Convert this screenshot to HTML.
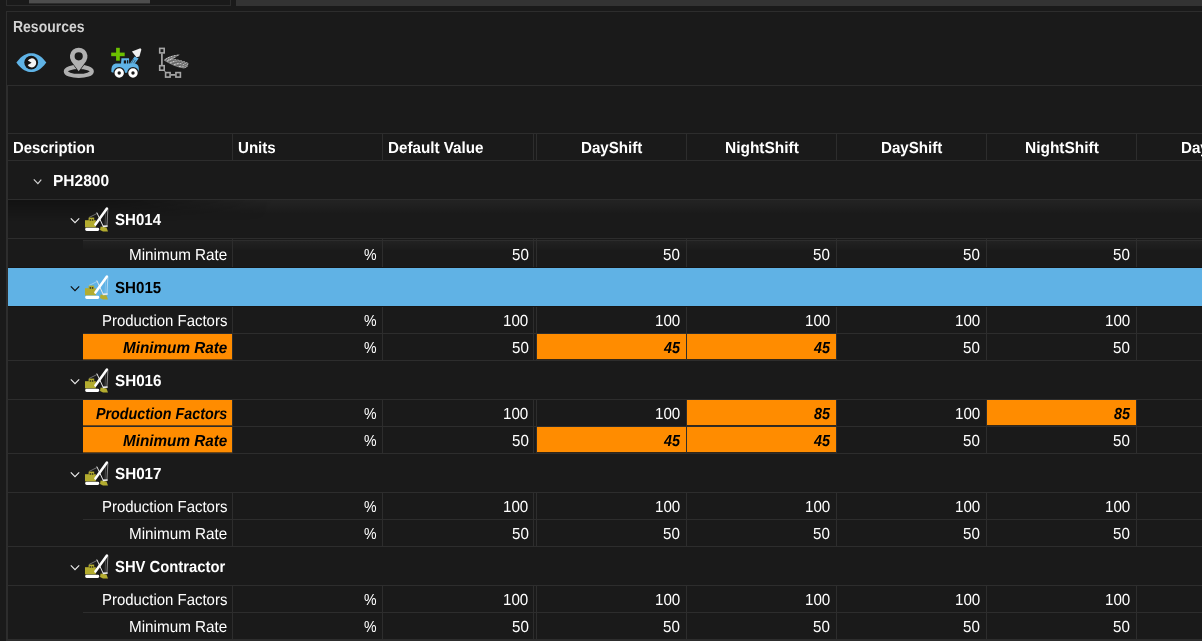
<!DOCTYPE html><html><head><meta charset="utf-8"><title>Resources</title><style>
html,body{margin:0;padding:0}
body{width:1202px;height:641px;overflow:hidden;background:#1a1a1a;position:relative;font-family:"Liberation Sans",sans-serif;font-size:16px;color:#fff;text-rendering:geometricPrecision}
div,span,svg{position:absolute;box-sizing:border-box}
.h{height:1px;background:#2d2d2d}
.v{width:1px;background:#2d2d2d}
.t{white-space:nowrap;line-height:18px;height:18px;transform-origin:0 0}
.b{font-weight:bold}
.bi{font-weight:bold;font-style:italic}
.o{background:#ff8c00}

</style></head><body>
<div style="left:6px;top:-1px;width:225px;height:7px;border:1px solid #2d2d2d"></div>
<div style="left:29px;top:0;width:121px;height:3px;background:#4d4d4d"></div><div style="left:29px;top:3px;width:121px;height:1px;background:#2e2e2e"></div>
<div style="left:236px;top:0;width:966px;height:6px;background:#333"></div>
<div style="left:6px;top:11px;width:1300px;height:700px;border:1px solid #2d2d2d"></div>
<div class="h" style="left:6px;top:85px;width:1196px"></div>
<div class="v" style="left:7px;top:85px;height:556px"></div>
<div class="h" style="left:8px;top:133px;width:1194px"></div>
<div class="h" style="left:8px;top:160px;width:1194px"></div>
<div class="v" style="left:232px;top:134px;height:26px"></div>
<div class="v" style="left:382px;top:134px;height:26px"></div>
<div class="v" style="left:533px;top:134px;height:26px"></div>
<div class="v" style="left:536px;top:134px;height:26px"></div>
<div class="v" style="left:686px;top:134px;height:26px"></div>
<div class="v" style="left:836px;top:134px;height:26px"></div>
<div class="v" style="left:986px;top:134px;height:26px"></div>
<div class="v" style="left:1136px;top:134px;height:26px"></div>
<svg style="left:32.5px;top:178px" width="11" height="7" viewBox="0 0 11 7"><path d="M0.8 1.3 L4.9 5.6 L8.3 1.6" fill="none" stroke="#d4d4d4" stroke-width="1.15"/></svg>
<div class="h" style="left:8px;top:199px;width:1194px"></div>
<div style="left:8px;top:200px;width:260px;height:38px;background:linear-gradient(to bottom,rgba(0,0,0,0.3),rgba(0,0,0,0) 55%);-webkit-mask-image:linear-gradient(to right,#000 30%,transparent 100%);mask-image:linear-gradient(to right,#000 30%,transparent 100%)"></div>
<div style="left:120px;top:200px;width:1082px;height:15px;background:linear-gradient(to bottom,rgba(255,255,255,0.045),rgba(255,255,255,0));-webkit-mask-image:linear-gradient(to right,transparent 0,#000 160px);mask-image:linear-gradient(to right,transparent 0,#000 160px)"></div>
<svg style="left:69.5px;top:217px" width="11" height="7" viewBox="0 0 11 7"><path d="M0.8 1.3 L5 5.6 L9.2 1.3" fill="none" stroke="#ececec" stroke-width="1.15"/></svg>
<svg style="left:84px;top:205px" width="26" height="27" viewBox="0 0 26 27"><path d="M5 12.5 L13 8.5" stroke="#fff" stroke-opacity="0.55" stroke-width="0.7" fill="none"/><path d="M23.9 3.6 L22.9 22" stroke="#fff" stroke-opacity="0.5" stroke-width="1" fill="none"/><path d="M21.8 5 L21 21" stroke="#fff" stroke-opacity="0.35" stroke-width="0.6" fill="none"/><path d="M12.8 7.5 L19.5 22" stroke="#e6e6e6" stroke-width="1" fill="none"/><rect x="1" y="15.2" width="10.8" height="7.2" fill="#b3ac2f"/><rect x="4.6" y="12.6" width="5.6" height="3" fill="#b3ac2f"/><rect x="5.7" y="14.2" width="1.4" height="1.5" fill="#2e2e1c"/><rect x="7.9" y="14.2" width="1.4" height="1.5" fill="#2e2e1c"/><path d="M11.4 19.6 L22.9 3.6" stroke="#ffffff" stroke-width="2.5" stroke-linecap="round" fill="none"/><rect x="1.2" y="22.7" width="14" height="3.2" rx="1.4" fill="#ffffff"/><path d="M16.6 21.4 L22.5 22.4 L24 26.6 L19 26.6 L16 25 Z" fill="#b3ac2f"/><path d="M18.8 21.4 L23.6 21" stroke="#ececec" stroke-width="1.6"/></svg>
<div class="h" style="left:8px;top:238px;width:1194px"></div>
<div class="h" style="left:83px;top:240px;width:1119px"></div>
<div style="left:83px;top:241px;width:1119px;height:10px;background:linear-gradient(to bottom,rgba(255,255,255,0.035),rgba(255,255,255,0))"></div>
<div class="v" style="left:232px;top:241px;height:26px"></div>
<div class="v" style="left:382px;top:241px;height:26px"></div>
<div class="v" style="left:533px;top:241px;height:26px"></div>
<div class="v" style="left:536px;top:241px;height:26px"></div>
<div class="v" style="left:686px;top:241px;height:26px"></div>
<div class="v" style="left:836px;top:241px;height:26px"></div>
<div class="v" style="left:986px;top:241px;height:26px"></div>
<div class="v" style="left:1136px;top:241px;height:26px"></div>
<div class="v" style="left:232px;top:239px;height:2px"></div>
<div class="v" style="left:382px;top:239px;height:2px"></div>
<div class="v" style="left:533px;top:239px;height:2px"></div>
<div class="v" style="left:536px;top:239px;height:2px"></div>
<div class="v" style="left:686px;top:239px;height:2px"></div>
<div class="v" style="left:836px;top:239px;height:2px"></div>
<div class="v" style="left:986px;top:239px;height:2px"></div>
<div class="v" style="left:1136px;top:239px;height:2px"></div>
<div class="h" style="left:8px;top:267px;width:1194px;background:#151515"></div>
<div style="left:8px;top:268px;width:1194px;height:38px;background:#60b2e5"></div>
<svg style="left:69.5px;top:285px" width="11" height="7" viewBox="0 0 11 7"><path d="M0.8 1.3 L5 5.6 L9.2 1.3" fill="none" stroke="#0c0c0c" stroke-width="1.15"/></svg>
<svg style="left:84px;top:273px" width="26" height="27" viewBox="0 0 26 27"><path d="M5 12.5 L13 8.5" stroke="#fff" stroke-opacity="0.55" stroke-width="0.7" fill="none"/><path d="M23.9 3.6 L22.9 22" stroke="#fff" stroke-opacity="0.5" stroke-width="1" fill="none"/><path d="M21.8 5 L21 21" stroke="#fff" stroke-opacity="0.35" stroke-width="0.6" fill="none"/><path d="M12.8 7.5 L19.5 22" stroke="#e6e6e6" stroke-width="1" fill="none"/><rect x="1" y="15.2" width="10.8" height="7.2" fill="#b3ac2f"/><rect x="4.6" y="12.6" width="5.6" height="3" fill="#b3ac2f"/><rect x="5.7" y="14.2" width="1.4" height="1.5" fill="#2e2e1c"/><rect x="7.9" y="14.2" width="1.4" height="1.5" fill="#2e2e1c"/><path d="M11.4 19.6 L22.9 3.6" stroke="#ffffff" stroke-width="2.5" stroke-linecap="round" fill="none"/><rect x="1.2" y="22.7" width="14" height="3.2" rx="1.4" fill="#ffffff"/><path d="M16.6 21.4 L22.5 22.4 L24 26.6 L19 26.6 L16 25 Z" fill="#b3ac2f"/><path d="M18.8 21.4 L23.6 21" stroke="#ececec" stroke-width="1.6"/></svg>
<div class="h" style="left:8px;top:306px;width:1194px;background:#151515"></div>
<div class="v" style="left:232px;top:307px;height:26px"></div>
<div class="v" style="left:382px;top:307px;height:26px"></div>
<div class="v" style="left:533px;top:307px;height:26px"></div>
<div class="v" style="left:536px;top:307px;height:26px"></div>
<div class="v" style="left:686px;top:307px;height:26px"></div>
<div class="v" style="left:836px;top:307px;height:26px"></div>
<div class="v" style="left:986px;top:307px;height:26px"></div>
<div class="v" style="left:1136px;top:307px;height:26px"></div>
<div class="h" style="left:83px;top:333px;width:1119px"></div>
<div class="v" style="left:232px;top:334px;height:26px"></div>
<div class="v" style="left:382px;top:334px;height:26px"></div>
<div class="v" style="left:533px;top:334px;height:26px"></div>
<div class="v" style="left:536px;top:334px;height:26px"></div>
<div class="v" style="left:686px;top:334px;height:26px"></div>
<div class="v" style="left:836px;top:334px;height:26px"></div>
<div class="v" style="left:986px;top:334px;height:26px"></div>
<div class="v" style="left:1136px;top:334px;height:26px"></div>
<div class="o" style="left:83px;top:334px;width:149px;height:25px"></div><div class="o" style="left:83px;top:359px;width:149px;height:1px;opacity:0.4"></div>
<div class="o" style="left:537px;top:334px;width:149px;height:25px"></div><div class="o" style="left:537px;top:359px;width:149px;height:1px;opacity:0.12"></div>
<div class="o" style="left:687px;top:334px;width:149px;height:25px"></div><div class="o" style="left:687px;top:359px;width:149px;height:1px;opacity:0.12"></div>
<div class="h" style="left:8px;top:360px;width:1194px"></div>
<svg style="left:69.5px;top:378px" width="11" height="7" viewBox="0 0 11 7"><path d="M0.8 1.3 L5 5.6 L9.2 1.3" fill="none" stroke="#ececec" stroke-width="1.15"/></svg>
<svg style="left:84px;top:366px" width="26" height="27" viewBox="0 0 26 27"><path d="M5 12.5 L13 8.5" stroke="#fff" stroke-opacity="0.55" stroke-width="0.7" fill="none"/><path d="M23.9 3.6 L22.9 22" stroke="#fff" stroke-opacity="0.5" stroke-width="1" fill="none"/><path d="M21.8 5 L21 21" stroke="#fff" stroke-opacity="0.35" stroke-width="0.6" fill="none"/><path d="M12.8 7.5 L19.5 22" stroke="#e6e6e6" stroke-width="1" fill="none"/><rect x="1" y="15.2" width="10.8" height="7.2" fill="#b3ac2f"/><rect x="4.6" y="12.6" width="5.6" height="3" fill="#b3ac2f"/><rect x="5.7" y="14.2" width="1.4" height="1.5" fill="#2e2e1c"/><rect x="7.9" y="14.2" width="1.4" height="1.5" fill="#2e2e1c"/><path d="M11.4 19.6 L22.9 3.6" stroke="#ffffff" stroke-width="2.5" stroke-linecap="round" fill="none"/><rect x="1.2" y="22.7" width="14" height="3.2" rx="1.4" fill="#ffffff"/><path d="M16.6 21.4 L22.5 22.4 L24 26.6 L19 26.6 L16 25 Z" fill="#b3ac2f"/><path d="M18.8 21.4 L23.6 21" stroke="#ececec" stroke-width="1.6"/></svg>
<div class="h" style="left:8px;top:399px;width:1194px"></div>
<div class="v" style="left:232px;top:400px;height:26px"></div>
<div class="v" style="left:382px;top:400px;height:26px"></div>
<div class="v" style="left:533px;top:400px;height:26px"></div>
<div class="v" style="left:536px;top:400px;height:26px"></div>
<div class="v" style="left:686px;top:400px;height:26px"></div>
<div class="v" style="left:836px;top:400px;height:26px"></div>
<div class="v" style="left:986px;top:400px;height:26px"></div>
<div class="v" style="left:1136px;top:400px;height:26px"></div>
<div class="o" style="left:83px;top:400px;width:149px;height:25px"></div><div class="o" style="left:83px;top:425px;width:149px;height:1px;opacity:0.4"></div>
<div class="o" style="left:687px;top:400px;width:149px;height:25px"></div><div class="o" style="left:687px;top:425px;width:149px;height:1px;opacity:0.12"></div>
<div class="o" style="left:987px;top:400px;width:149px;height:25px"></div><div class="o" style="left:987px;top:425px;width:149px;height:1px;opacity:0.12"></div>
<div class="h" style="left:83px;top:426px;width:1119px"></div>
<div class="v" style="left:232px;top:427px;height:26px"></div>
<div class="v" style="left:382px;top:427px;height:26px"></div>
<div class="v" style="left:533px;top:427px;height:26px"></div>
<div class="v" style="left:536px;top:427px;height:26px"></div>
<div class="v" style="left:686px;top:427px;height:26px"></div>
<div class="v" style="left:836px;top:427px;height:26px"></div>
<div class="v" style="left:986px;top:427px;height:26px"></div>
<div class="v" style="left:1136px;top:427px;height:26px"></div>
<div class="o" style="left:83px;top:427px;width:149px;height:25px"></div><div class="o" style="left:83px;top:452px;width:149px;height:1px;opacity:0.4"></div>
<div class="o" style="left:537px;top:427px;width:149px;height:25px"></div><div class="o" style="left:537px;top:452px;width:149px;height:1px;opacity:0.12"></div>
<div class="o" style="left:687px;top:427px;width:149px;height:25px"></div><div class="o" style="left:687px;top:452px;width:149px;height:1px;opacity:0.12"></div>
<div class="h" style="left:8px;top:453px;width:1194px"></div>
<svg style="left:69.5px;top:471px" width="11" height="7" viewBox="0 0 11 7"><path d="M0.8 1.3 L5 5.6 L9.2 1.3" fill="none" stroke="#ececec" stroke-width="1.15"/></svg>
<svg style="left:84px;top:459px" width="26" height="27" viewBox="0 0 26 27"><path d="M5 12.5 L13 8.5" stroke="#fff" stroke-opacity="0.55" stroke-width="0.7" fill="none"/><path d="M23.9 3.6 L22.9 22" stroke="#fff" stroke-opacity="0.5" stroke-width="1" fill="none"/><path d="M21.8 5 L21 21" stroke="#fff" stroke-opacity="0.35" stroke-width="0.6" fill="none"/><path d="M12.8 7.5 L19.5 22" stroke="#e6e6e6" stroke-width="1" fill="none"/><rect x="1" y="15.2" width="10.8" height="7.2" fill="#b3ac2f"/><rect x="4.6" y="12.6" width="5.6" height="3" fill="#b3ac2f"/><rect x="5.7" y="14.2" width="1.4" height="1.5" fill="#2e2e1c"/><rect x="7.9" y="14.2" width="1.4" height="1.5" fill="#2e2e1c"/><path d="M11.4 19.6 L22.9 3.6" stroke="#ffffff" stroke-width="2.5" stroke-linecap="round" fill="none"/><rect x="1.2" y="22.7" width="14" height="3.2" rx="1.4" fill="#ffffff"/><path d="M16.6 21.4 L22.5 22.4 L24 26.6 L19 26.6 L16 25 Z" fill="#b3ac2f"/><path d="M18.8 21.4 L23.6 21" stroke="#ececec" stroke-width="1.6"/></svg>
<div class="h" style="left:8px;top:492px;width:1194px"></div>
<div class="v" style="left:232px;top:493px;height:26px"></div>
<div class="v" style="left:382px;top:493px;height:26px"></div>
<div class="v" style="left:533px;top:493px;height:26px"></div>
<div class="v" style="left:536px;top:493px;height:26px"></div>
<div class="v" style="left:686px;top:493px;height:26px"></div>
<div class="v" style="left:836px;top:493px;height:26px"></div>
<div class="v" style="left:986px;top:493px;height:26px"></div>
<div class="v" style="left:1136px;top:493px;height:26px"></div>
<div class="h" style="left:83px;top:519px;width:1119px"></div>
<div class="v" style="left:232px;top:520px;height:26px"></div>
<div class="v" style="left:382px;top:520px;height:26px"></div>
<div class="v" style="left:533px;top:520px;height:26px"></div>
<div class="v" style="left:536px;top:520px;height:26px"></div>
<div class="v" style="left:686px;top:520px;height:26px"></div>
<div class="v" style="left:836px;top:520px;height:26px"></div>
<div class="v" style="left:986px;top:520px;height:26px"></div>
<div class="v" style="left:1136px;top:520px;height:26px"></div>
<div class="h" style="left:8px;top:546px;width:1194px"></div>
<svg style="left:69.5px;top:564px" width="11" height="7" viewBox="0 0 11 7"><path d="M0.8 1.3 L5 5.6 L9.2 1.3" fill="none" stroke="#ececec" stroke-width="1.15"/></svg>
<svg style="left:84px;top:552px" width="26" height="27" viewBox="0 0 26 27"><path d="M5 12.5 L13 8.5" stroke="#fff" stroke-opacity="0.55" stroke-width="0.7" fill="none"/><path d="M23.9 3.6 L22.9 22" stroke="#fff" stroke-opacity="0.5" stroke-width="1" fill="none"/><path d="M21.8 5 L21 21" stroke="#fff" stroke-opacity="0.35" stroke-width="0.6" fill="none"/><path d="M12.8 7.5 L19.5 22" stroke="#e6e6e6" stroke-width="1" fill="none"/><rect x="1" y="15.2" width="10.8" height="7.2" fill="#b3ac2f"/><rect x="4.6" y="12.6" width="5.6" height="3" fill="#b3ac2f"/><rect x="5.7" y="14.2" width="1.4" height="1.5" fill="#2e2e1c"/><rect x="7.9" y="14.2" width="1.4" height="1.5" fill="#2e2e1c"/><path d="M11.4 19.6 L22.9 3.6" stroke="#ffffff" stroke-width="2.5" stroke-linecap="round" fill="none"/><rect x="1.2" y="22.7" width="14" height="3.2" rx="1.4" fill="#ffffff"/><path d="M16.6 21.4 L22.5 22.4 L24 26.6 L19 26.6 L16 25 Z" fill="#b3ac2f"/><path d="M18.8 21.4 L23.6 21" stroke="#ececec" stroke-width="1.6"/></svg>
<div class="h" style="left:8px;top:585px;width:1194px"></div>
<div class="v" style="left:232px;top:586px;height:26px"></div>
<div class="v" style="left:382px;top:586px;height:26px"></div>
<div class="v" style="left:533px;top:586px;height:26px"></div>
<div class="v" style="left:536px;top:586px;height:26px"></div>
<div class="v" style="left:686px;top:586px;height:26px"></div>
<div class="v" style="left:836px;top:586px;height:26px"></div>
<div class="v" style="left:986px;top:586px;height:26px"></div>
<div class="v" style="left:1136px;top:586px;height:26px"></div>
<div class="h" style="left:83px;top:612px;width:1119px"></div>
<div class="v" style="left:232px;top:613px;height:26px"></div>
<div class="v" style="left:382px;top:613px;height:26px"></div>
<div class="v" style="left:533px;top:613px;height:26px"></div>
<div class="v" style="left:536px;top:613px;height:26px"></div>
<div class="v" style="left:686px;top:613px;height:26px"></div>
<div class="v" style="left:836px;top:613px;height:26px"></div>
<div class="v" style="left:986px;top:613px;height:26px"></div>
<div class="v" style="left:1136px;top:613px;height:26px"></div>
<div class="h" style="left:8px;top:639px;width:1194px"></div>
<div class="h" style="left:8px;top:640px;width:1194px"></div>
<div class="t b" style="left:13.13px;top:19px;transform:scaleX(0.8735);color:#d2d2d2">Resources</div>
<div class="t b" style="left:12.87px;top:140px;transform:scaleX(0.9302)">Description</div>
<div class="t b" style="left:238.06px;top:140px;transform:scaleX(0.9429)">Units</div>
<div class="t b" style="left:387.85px;top:140px;transform:scaleX(0.9495)">Default Value</div>
<div class="t b" style="left:581.05px;top:140px;transform:scaleX(0.9459)">DayShift</div>
<div class="t b" style="left:725.03px;top:140px;transform:scaleX(0.9661)">NightShift</div>
<div class="t b" style="left:881.05px;top:140px;transform:scaleX(0.9459)">DayShift</div>
<div class="t b" style="left:1025.03px;top:140px;transform:scaleX(0.9661)">NightShift</div>
<div class="t b" style="left:1181.15px;top:140px;transform:scaleX(0.9459)">DayShift</div>
<div class="t b" style="left:52.73px;top:173px;transform:scaleX(0.9689)">PH2800</div>
<div class="t b" style="left:115.33px;top:212px;transform:scaleX(0.9409)">SH014</div>
<div class="t" style="left:128.61px;top:247px;transform:scaleX(0.9531)">Minimum Rate</div>
<div class="t" style="left:363.86px;top:247px;transform:scaleX(0.8830)">%</div>
<div class="t" style="left:511.59px;top:247px;transform:scaleX(0.9455)">50</div>
<div class="t" style="left:663.49px;top:247px;transform:scaleX(0.9455)">50</div>
<div class="t" style="left:813.49px;top:247px;transform:scaleX(0.9455)">50</div>
<div class="t" style="left:963.49px;top:247px;transform:scaleX(0.9455)">50</div>
<div class="t" style="left:1113.49px;top:247px;transform:scaleX(0.9455)">50</div>
<div class="t b" style="left:115.33px;top:280px;transform:scaleX(0.9458);color:#000">SH015</div>
<div class="t" style="left:101.83px;top:313px;transform:scaleX(0.9336)">Production Factors</div>
<div class="t" style="left:363.86px;top:313px;transform:scaleX(0.8830)">%</div>
<div class="t" style="left:503.32px;top:313px;transform:scaleX(0.9455)">100</div>
<div class="t" style="left:655.22px;top:313px;transform:scaleX(0.9455)">100</div>
<div class="t" style="left:805.22px;top:313px;transform:scaleX(0.9455)">100</div>
<div class="t" style="left:955.22px;top:313px;transform:scaleX(0.9455)">100</div>
<div class="t" style="left:1105.22px;top:313px;transform:scaleX(0.9455)">100</div>
<div class="t bi" style="left:122.76px;top:340px;transform:scaleX(0.9536);color:#000">Minimum Rate</div>
<div class="t" style="left:363.86px;top:340px;transform:scaleX(0.8830)">%</div>
<div class="t" style="left:511.59px;top:340px;transform:scaleX(0.9455)">50</div>
<div class="t bi" style="left:663.62px;top:340px;transform:scaleX(0.8986);color:#000">45</div>
<div class="t bi" style="left:813.62px;top:340px;transform:scaleX(0.8986);color:#000">45</div>
<div class="t" style="left:963.49px;top:340px;transform:scaleX(0.9455)">50</div>
<div class="t" style="left:1113.49px;top:340px;transform:scaleX(0.9455)">50</div>
<div class="t b" style="left:115.32px;top:373px;transform:scaleX(0.9508)">SH016</div>
<div class="t bi" style="left:95.58px;top:406px;transform:scaleX(0.8945);color:#000">Production Factors</div>
<div class="t" style="left:363.86px;top:406px;transform:scaleX(0.8830)">%</div>
<div class="t" style="left:503.32px;top:406px;transform:scaleX(0.9455)">100</div>
<div class="t" style="left:655.22px;top:406px;transform:scaleX(0.9455)">100</div>
<div class="t bi" style="left:813.62px;top:406px;transform:scaleX(0.8986);color:#000">85</div>
<div class="t" style="left:955.22px;top:406px;transform:scaleX(0.9455)">100</div>
<div class="t bi" style="left:1113.62px;top:406px;transform:scaleX(0.8986);color:#000">85</div>
<div class="t bi" style="left:122.76px;top:433px;transform:scaleX(0.9536);color:#000">Minimum Rate</div>
<div class="t" style="left:363.86px;top:433px;transform:scaleX(0.8830)">%</div>
<div class="t" style="left:511.59px;top:433px;transform:scaleX(0.9455)">50</div>
<div class="t bi" style="left:663.62px;top:433px;transform:scaleX(0.8986);color:#000">45</div>
<div class="t bi" style="left:813.62px;top:433px;transform:scaleX(0.8986);color:#000">45</div>
<div class="t" style="left:963.49px;top:433px;transform:scaleX(0.9455)">50</div>
<div class="t" style="left:1113.49px;top:433px;transform:scaleX(0.9455)">50</div>
<div class="t b" style="left:115.32px;top:466px;transform:scaleX(0.9508)">SH017</div>
<div class="t" style="left:101.83px;top:499px;transform:scaleX(0.9336)">Production Factors</div>
<div class="t" style="left:363.86px;top:499px;transform:scaleX(0.8830)">%</div>
<div class="t" style="left:503.32px;top:499px;transform:scaleX(0.9455)">100</div>
<div class="t" style="left:655.22px;top:499px;transform:scaleX(0.9455)">100</div>
<div class="t" style="left:805.22px;top:499px;transform:scaleX(0.9455)">100</div>
<div class="t" style="left:955.22px;top:499px;transform:scaleX(0.9455)">100</div>
<div class="t" style="left:1105.22px;top:499px;transform:scaleX(0.9455)">100</div>
<div class="t" style="left:128.61px;top:526px;transform:scaleX(0.9531)">Minimum Rate</div>
<div class="t" style="left:363.86px;top:526px;transform:scaleX(0.8830)">%</div>
<div class="t" style="left:511.59px;top:526px;transform:scaleX(0.9455)">50</div>
<div class="t" style="left:663.49px;top:526px;transform:scaleX(0.9455)">50</div>
<div class="t" style="left:813.49px;top:526px;transform:scaleX(0.9455)">50</div>
<div class="t" style="left:963.49px;top:526px;transform:scaleX(0.9455)">50</div>
<div class="t" style="left:1113.49px;top:526px;transform:scaleX(0.9455)">50</div>
<div class="t b" style="left:115.34px;top:559px;transform:scaleX(0.9257)">SHV Contractor</div>
<div class="t" style="left:101.83px;top:592px;transform:scaleX(0.9336)">Production Factors</div>
<div class="t" style="left:363.86px;top:592px;transform:scaleX(0.8830)">%</div>
<div class="t" style="left:503.32px;top:592px;transform:scaleX(0.9455)">100</div>
<div class="t" style="left:655.22px;top:592px;transform:scaleX(0.9455)">100</div>
<div class="t" style="left:805.22px;top:592px;transform:scaleX(0.9455)">100</div>
<div class="t" style="left:955.22px;top:592px;transform:scaleX(0.9455)">100</div>
<div class="t" style="left:1105.22px;top:592px;transform:scaleX(0.9455)">100</div>
<div class="t" style="left:128.61px;top:619px;transform:scaleX(0.9531)">Minimum Rate</div>
<div class="t" style="left:363.86px;top:619px;transform:scaleX(0.8830)">%</div>
<div class="t" style="left:511.59px;top:619px;transform:scaleX(0.9455)">50</div>
<div class="t" style="left:663.49px;top:619px;transform:scaleX(0.9455)">50</div>
<div class="t" style="left:813.49px;top:619px;transform:scaleX(0.9455)">50</div>
<div class="t" style="left:963.49px;top:619px;transform:scaleX(0.9455)">50</div>
<div class="t" style="left:1113.49px;top:619px;transform:scaleX(0.9455)">50</div>
<svg style="left:12px;top:44px" width="184" height="38" viewBox="12 44 184 38">
<path d="M16.4 62.5 C22 54.8 27 53.2 31.3 53.2 C35.6 53.2 40.6 54.8 46.3 62.5 C40.6 70.4 35.6 72 31.3 72 C27 72 22 70.4 16.4 62.5 Z" fill="#5fb3e6"/>
<circle cx="31.2" cy="62.6" r="6.9" fill="#141414"/>
<path d="M31.6 62.8 L27.9 60.5 A4.5 4.5 0 1 1 27.7 64.9 Z" fill="#f4f4f4"/>
<ellipse cx="78.8" cy="71.4" rx="13" ry="4.5" fill="none" stroke="#b0b0b0" stroke-width="4.1"/>
<path d="M78.7 71.2 L71.3 61.2 A8.8 8.8 0 1 1 86.1 61.2 Z M78.7 52.2 A4.1 4.1 0 1 0 78.7 60.4 A4.1 4.1 0 1 0 78.7 52.2 Z" fill="#b0b0b0" fill-rule="evenodd" stroke="#1a1a1a" stroke-width="1.4" paint-order="stroke"/>
<!-- loader -->
<rect x="111.2" y="52.6" width="13.5" height="3.6" fill="#6cc000"/><rect x="116.1" y="47.8" width="3.7" height="12.9" fill="#6cc000"/>
<path d="M131.9 51.4 L140.4 48.2 L141.4 49.4 L139.4 56.4 L136.4 57.2 Z" fill="#f0f0f0"/>
<path d="M128 66 L134.6 56.6 L138.6 58.4 L132.6 66.5 Z" fill="#5fb3e6"/>
<path d="M121 64.5 L121.4 58.3 L129 58.3 L129.4 64.5 Z" fill="#5fb3e6"/>
<rect x="123.8" y="60.4" width="2.3" height="3.6" fill="#161616"/><rect x="127" y="60.2" width="1.3" height="4" fill="#161616"/><path d="M133.6 59 L131.2 63.6 M135.4 60 L133.4 63.4" stroke="#1a1a1a" stroke-width="0.7" opacity="0.65" fill="none"/><path d="M129.6 60 L129.9 65" stroke="#1a1a1a" stroke-width="0.9" opacity="0.8"/>
<path d="M111.4 72 C111 66 113 63.6 117 63.6 L134 63.6 C137.6 63.6 139 66 138.8 70 L138 72.5 L114 73 Z" fill="#5fb3e6"/>
<circle cx="119.2" cy="73" r="5.9" fill="#1a1a1a"/><circle cx="133" cy="73" r="5.9" fill="#1a1a1a"/>
<circle cx="119.2" cy="73" r="3.2" fill="none" stroke="#ffffff" stroke-width="3"/>
<circle cx="133" cy="73" r="3.2" fill="none" stroke="#ffffff" stroke-width="3"/>
<!-- graph -->
<g fill="none" stroke="#a6a6a6" stroke-width="1.6">
<rect x="159.7" y="48.4" width="4.5" height="4.5"/><rect x="159.7" y="65.7" width="4.5" height="4.5"/>
<rect x="165.6" y="72.6" width="4.5" height="4.5"/><rect x="175.9" y="72.6" width="4.5" height="4.5"/>
<path d="M161.9 53.6 V65 M171 74.9 H175.2" stroke-width="1.7"/><path d="M164.4 70.8 L165.4 72" stroke-width="1"/>
</g>
<path d="M163.9 59.7 C168 56.4 174 54.9 180 54.5 L173.2 58.9 C179 59.6 185 61.2 188.6 63.2 L187.7 66.8 L184 68.5 C178 67.5 170 64.6 163.9 60.5 Z" fill="#858585"/>
<g stroke="#d0d0d0" stroke-width="0.9" stroke-dasharray="1.7 1.3" fill="none">
<path d="M165.5 59.4 C169 56.8 174 55.6 178.8 55.1"/><path d="M168 59.6 C170.5 58.2 173 57.4 175.4 57"/>
<path d="M167 61.2 C169 60 171 59.2 173 58.8 M174.5 59.6 C179 60.2 184.5 61.6 188 63.4"/>
<path d="M170 63 C173 61.6 175 61 177.6 60.6 C181 61.6 185 63 187.8 64.6"/>
<path d="M174 64.8 C176 64 178 63.4 180 63.4 C183 64.2 185.5 65.2 187.4 66.4"/>
<path d="M179 66.6 C181 66 182.6 65.9 184 66.2 L186 67.4"/>
</g>
<g stroke="#2a2a2a" stroke-width="0.5" fill="none" opacity="0.8">
<path d="M166.2 60.3 C170 57.6 174 56.4 177.6 56 M168.5 62.2 C171 60.8 172.6 60.2 174 60 C179 60.6 185 62.4 188 64 M172 64 C174.5 62.8 176.5 62.2 178.6 62 C182 63 185 64.2 187.6 65.6 M176.5 65.8 C178.6 65 180.4 64.8 182 65 L186.6 67"/>
</g>
</svg>

</body></html>
